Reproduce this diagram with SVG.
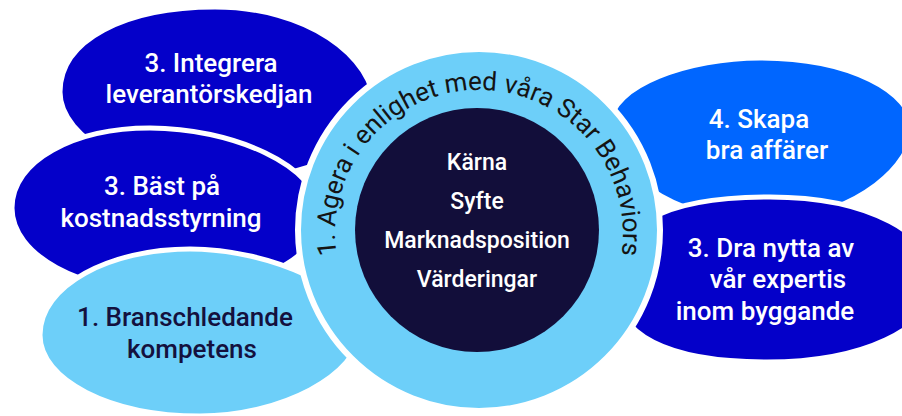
<svg xmlns="http://www.w3.org/2000/svg" width="902" height="416" viewBox="0 0 902 416">
  <defs>
    <style>
      .blob { stroke: #ffffff; stroke-width: 5; stroke-linejoin: round; }
      .dark { fill: #0400c9; }
      .mid { fill: #0066ff; }
      .light { fill: #6dcff9; }
      .lbl { font-family: Roboto, "Liberation Sans", sans-serif; font-weight: 500; font-size: 26px; text-anchor: middle; fill: #ffffff; }
      .lbl.ink { fill: #14113e; }
      .core { font-family: Roboto, "Liberation Sans", sans-serif; font-weight: 500; font-size: 23px; text-anchor: middle; fill: #ffffff; }
      .arc { font-family: Roboto, "Liberation Sans", sans-serif; font-weight: 400; font-size: 26px; fill: #141414; }
    </style>
    <path id="arcPath" d="M 343.7 283.2 A 144 144 0 1 1 614.3 283.2" fill="none"/>
  </defs>

  <g id="node-integrera">
    <path class="blob dark" d="M 60 92 C 60 40 125 7 215 7 C 305 7 375 55 375 110 C 375 150 300 180 220 180 C 140 180 60 140 60 92 Z"/>
    <text class="lbl" x="211" y="72">3. Integrera</text>
    <text class="lbl" x="209" y="103">leverantörskedjan</text>
  </g>

  <g id="node-kostnad">
    <path class="blob dark" d="M 12 208 C 12 160 75 128 150 128 C 230 128 320 165 320 215 C 320 265 240 292 165 292 C 80 292 12 255 12 208 Z"/>
    <text class="lbl" x="162" y="195">3. Bäst på</text>
    <text class="lbl" x="161" y="227">kostnadsstyrning</text>
  </g>

  <g id="node-bransch">
    <path class="blob light" d="M 40 335 C 40 285 110 249 190 249 C 270 249 360 290 360 330 C 360 375 280 416 200 416 C 110 416 40 380 40 335 Z"/>
    <text class="lbl ink" x="185" y="326">1. Branschledande</text>
    <text class="lbl ink" x="192" y="358">kompetens</text>
  </g>

  <g id="node-skapa">
    <path class="blob mid" d="M 610 125 C 610 85 690 58 760 58 C 850 58 912 92 912 128 C 912 165 860 212 780 220 C 690 228 610 180 610 125 Z"/>
    <text class="lbl" x="759" y="128">4. Skapa</text>
    <text class="lbl" x="767" y="159">bra affärer</text>
  </g>

  <g id="node-expertis">
    <path class="blob dark" d="M 615 285 C 615 225 660 197 770 197 C 870 197 935 235 935 280 C 935 330 860 362 767 362 C 667 362 615 335 615 285 Z"/>
    <text class="lbl" x="771" y="257">3. Dra nytta av</text>
    <text class="lbl" x="778" y="288">vår expertis</text>
    <text class="lbl" x="765" y="320">inom byggande</text>
  </g>

  <g id="node-center">
    <circle cx="479" cy="230" r="181" fill="#6dcff9" stroke="#ffffff" stroke-width="6"/>
    <text class="arc"><textPath href="#arcPath" startOffset="50%" text-anchor="middle">1. Agera i enlighet med våra Star Behaviors</textPath></text>
    <circle cx="477" cy="230" r="122" fill="#120e3a"/>
    <text class="core" x="477" y="170">Kärna</text>
    <text class="core" x="477" y="209">Syfte</text>
    <text class="core" x="477" y="248">Marknadsposition</text>
    <text class="core" x="477" y="287">Värderingar</text>
  </g>
</svg>
